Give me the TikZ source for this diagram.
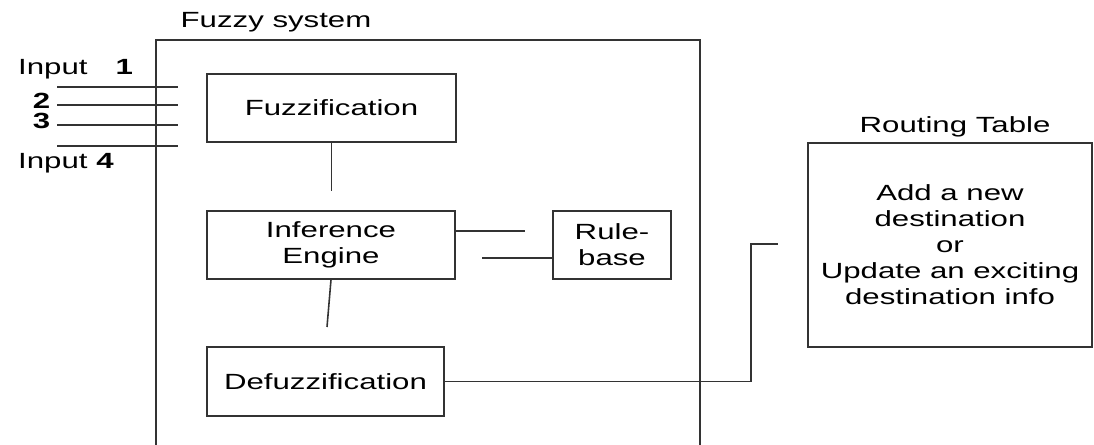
\documentclass[tikz,border=0pt]{standalone}
\usepackage{fontspec}
\setmainfont[FakeStretch=1.42]{Liberation Sans}
\usetikzlibrary{positioning}

\begin{document}
\begin{tikzpicture}[
  block/.style={draw=black!80,line width=0.9pt,align=center,inner sep=0pt},
  wire/.style={draw=black!80,line width=0.9pt},
  every node/.style={font=\fontsize{12.5}{14.8}\selectfont}]
\path[use as bounding box] (0,0) rectangle (21.88,8.9);
\clip (0,0) rectangle (21.88,8.9);
% fuzzy system (runs past the bottom edge)
\node[block,minimum width=10.88cm,minimum height=8.6cm] (fuzzysys) at (8.56,3.8) {};
\node (fuzzytitle) at (5.52,8.46) {Fuzzy system};
\node[block,minimum width=4.98cm,minimum height=1.36cm] (fuzz) at (6.63,6.74) {Fuzzification};
\node[block,minimum width=4.96cm,minimum height=1.36cm] (inf) at (6.62,4.0) {Inference\\Engine};
\node[block,minimum width=4.74cm,minimum height=1.38cm] (defuzz) at (6.51,1.27) {Defuzzification};
\node[block,minimum width=2.36cm,minimum height=1.36cm] (rule) at (12.24,4.0) {Rule-\\base};
% routing table
\node[block,minimum width=5.68cm,minimum height=4.08cm] (routing) at (19.0,4.0)
  {Add a new\\destination\\or\\Update an exciting\\destination info};
\node (rttitle) at (19.1,6.36) {Routing Table};
% inputs
\node[anchor=west] (input1) at (0.24,7.52) {Input\hspace{0.56cm}\textbf{1}};
\node (input2) at (0.83,6.89) {\textbf{2}};
\node (input3) at (0.83,6.48) {\textbf{3}};
\node[anchor=west] (input4) at (0.24,5.64) {Input \textbf{4}};
\foreach \i/\y in {1/7.16,2/6.8,3/6.4,4/5.98} {
  \coordinate (in\i w) at (1.14,\y);
  \coordinate (in\i e) at (3.56,\y);
  \draw[wire] (in\i w) -- (in\i e);
}
% links
\draw[wire] (fuzz.south) -- ++(0,-0.96) coordinate (fzend);
\coordinate (infend) at (6.54,2.36);
\draw[wire] (inf.south) -- (infend);
\draw[wire] ([yshift=0.28cm]inf.east) -- ++(1.38,0) coordinate (infrt);
\draw[wire] ([yshift=-0.26cm]rule.west) -- ++(-1.4,0) coordinate (rulelt);
\coordinate (rtbend) at (15.02,4.02);
\coordinate (rtend) at (15.56,4.02);
\draw[wire] (defuzz.east) -| (rtbend) -- (rtend);
\end{tikzpicture}
\end{document}
